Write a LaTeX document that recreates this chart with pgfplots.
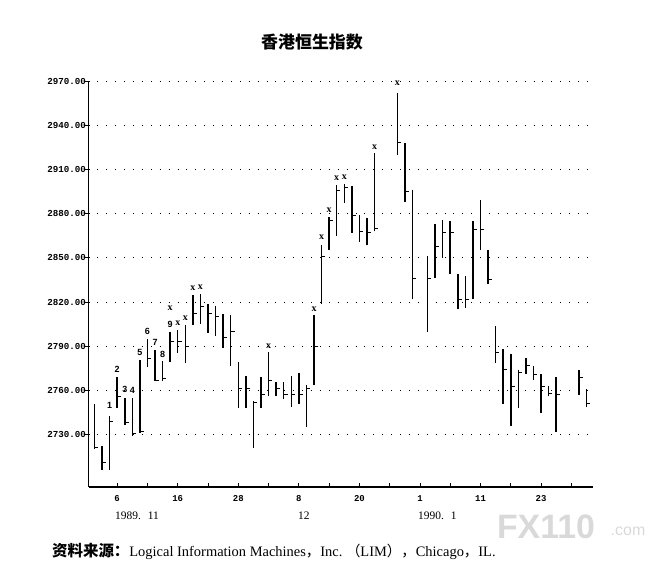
\documentclass[border=0pt]{standalone}
\usepackage{fontspec}
\setmainfont{Liberation Serif}
\setsansfont{Liberation Sans}
\setmonofont{Liberation Mono}
\newfontfamily\cjk{Noto Sans CJK SC}
\usepackage{pgfplots}
\pgfplotsset{compat=1.18}
\usepackage{pgfplotstable}

% index (trading day slot), low, high, close
\pgfplotstableread{
i l h c
0 2720 2751 2721
1 2706 2722 2711
2 2706 2743 2739
3 2748 2769 2756
4 2736.5 2755 2738
5 2729 2755 2731
6 2731 2781 2732
7 2776 2795 2782
8 2766.5 2787.5 2767
9 2766.5 2780 2768
10 2779 2799.4 2793
11 2785.5 2801 2793
12 2778.6 2804.5 2790
13 2804.3 2824.5 2812
14 2805 2825.6 2817
15 2799 2818.4 2812
16 2797 2817 2810
17 2789 2812 2796
18 2776.6 2811 2800
19 2748 2779 2761
20 2748 2769.7 2761
21 2721 2753 2752
22 2748 2769 2757
23 2756 2786 2767
24 2756 2766 2761
25 2754 2766 2757
26 2749 2770 2757
27 2751 2772 2757
28 2735.4 2763.4 2761
29 2763.4 2811 2790
30 2819 2859 2851
31 2855.4 2877.5 2875
32 2865 2899.4 2896
33 2887 2900 2898
34 2867 2899 2879
35 2861 2879 2868
36 2858.4 2877 2867
37 2868 2921 2870
40 2920 2962 2928
41 2888 2928 2895
42 2822 2896 2836
44 2800 2851 2836
45 2836.5 2873 2858
46 2850 2876 2867
47 2839 2875 2867
48 2815 2839 2822
49 2816 2838 2822
50 2822 2875 2869
51 2855 2889 2869
52 2832 2855 2835
53 2778.5 2804 2786
54 2751 2788 2774
55 2736 2785 2763
56 2748 2774 2772
57 2771 2782 2777
58 2767 2776.5 2771
59 2745 2771 2763
60 2756 2763 2758
61 2732 2769 2757
64 2757 2774 2769
65 2749 2761 2751
}\bars

\pgfplotstableread{
i y lab
2 2749.7 1
3 2774 2
4 2761 3
5 2760.3 4
6 2785.5 5
7 2800 6
8 2792.3 7
9 2784.4 8
10 2805 9
}\nums

\pgfplotstableread{
i y
10 2815.5
11 2805.7
12 2809
13 2829.6
14 2830.3
23 2790.2
29 2814.9
30 2864
31 2882
32 2903.9
33 2904.4
37 2924.9
40 2968.2
}\xs

\begin{document}
\begin{tikzpicture}
\useasboundingbox (0,0) rectangle (663bp,577bp);
\begin{axis}[
  at={(88.5bp,90bp)}, anchor=south west,
  scale only axis, width=504.5bp, height=406bp,
  xmin=-0.79, xmax=65.86, ymin=2694.5, ymax=2970,
  axis x line*=bottom, axis y line*=left,
  x axis line style={line width=1.4bp, -},
  y axis line style={line width=1.8bp, -},
  xtick={3,7,...,63},
  xticklabels={6,,16,,28,,8,,20,,1,,11,,23,},
  ytick={2730,2760,...,2970},
  tick align=inside,
  major tick length=4bp,
  tick style={black, line width=0.9bp},
  ytick style={xshift=-4bp},
  ymajorgrids,
  major grid style={black, line width=0.9bp, dash pattern=on 0.9bp off 8bp},
  xticklabel style={font=\ttfamily\bfseries\fontsize{9}{10}\selectfont, inner sep=0pt, anchor=north, yshift=-8bp},
  yticklabel style={font=\ttfamily\bfseries\fontsize{9.2}{10}\selectfont, inner sep=0pt, xshift=-2.5bp, /pgf/number format/.cd, fixed, fixed zerofill, precision=2, 1000 sep={}, assume math mode=true},
  clip=false,
]
\addplot[draw=none, mark=none, error bars/.cd, y dir=plus, y explicit, error mark=none,
  error bar style={draw=black, line width=1.5bp}]
  table[x=i, y=l, y error plus expr=\thisrow{h}-\thisrow{l}] {\bars};
\addplot[draw=none, mark=none, error bars/.cd, x dir=plus, x fixed=0.5, error mark=none,
  error bar style={draw=black, line width=1bp}]
  table[x=i, y=c] {\bars};
\addplot[draw=none, mark=none, nodes near coords, point meta=explicit symbolic,
  nodes near coords style={anchor=center, inner sep=0pt, text=black, font=\sffamily\bfseries\fontsize{9}{9}\selectfont}]
  table[x=i, y=y, meta=lab] {\nums};
\addplot[draw=none, mark=none, nodes near coords={x},
  nodes near coords style={anchor=center, inner sep=0pt, text=black, font=\rmfamily\bfseries\fontsize{10}{10}\selectfont}]
  table[x=i, y=y] {\xs};
\end{axis}
\node[anchor=center] at (312bp,535bp) {\cjk\bfseries\fontsize{17}{19}\selectfont 香港恒生指数};
\begin{scope}[every node/.style={anchor=west, inner sep=0pt, font=\fontsize{11.5}{12}\selectfont}]
\node at (115bp,61bp) {1989.\hspace{0.6em}11};
\node at (298bp,61bp) {12};
\node at (418bp,61bp) {1990.\hspace{0.6em}1};
\end{scope}
\node[anchor=west, inner sep=0pt] at (52bp,26bp) {{\cjk\bfseries\fontsize{15.5}{17}\selectfont 资料来源：}{\fontsize{14.5}{16}\selectfont Logical Information Machines{\cjk ，}Inc.\ {\cjk （}LIM{\cjk ），}Chicago{\cjk ，}IL.}};
\node[anchor=center, text=black!15] at (546bp,50bp) {\sffamily\bfseries\fontsize{34}{34}\selectfont FX110};
\node[anchor=center, text=black!15] at (628bp,46bp) {\sffamily\fontsize{16}{16}\selectfont .com};
\end{tikzpicture}
\end{document}
